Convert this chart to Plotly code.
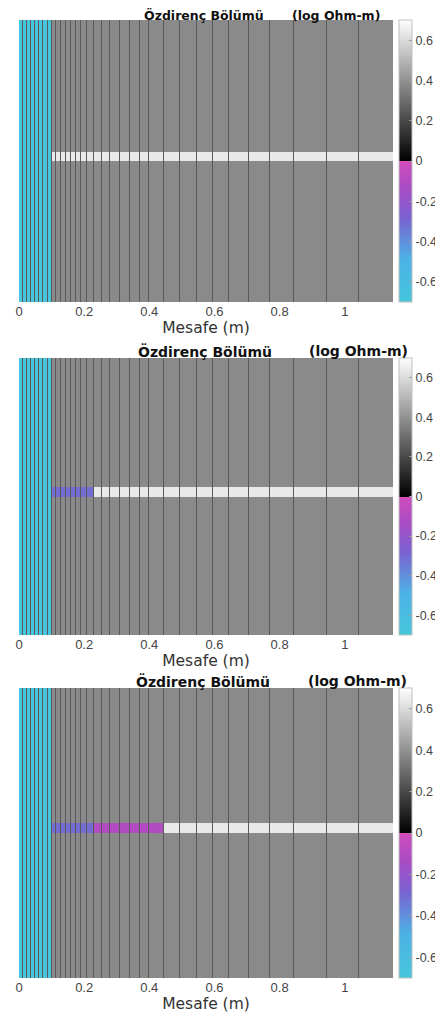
import plotly.graph_objects as go

# ---------------- data ----------------
# column edges along distance (m)
x_edges = [0.0, 0.0125, 0.025, 0.0375, 0.05, 0.0625, 0.075, 0.0875, 0.1,
           0.115, 0.13, 0.145, 0.16, 0.175, 0.19, 0.21, 0.23,
           0.255, 0.28, 0.31, 0.34, 0.37, 0.40, 0.445,
           0.495, 0.545, 0.595, 0.645, 0.705, 0.77, 0.845, 0.945, 1.045, 1.15]
n_rows = 30
band_row = 14                 # row index (from top) of the highlighted layer
left_edge_x = 0.1             # end of cyan block
value_left = -0.7             # cyan block (log Ohm-m)
value_background = 0.38       # grey background
value_band = 0.64             # white layer
# anomalous segments in the layer for each panel: (x start, x end, value)
segments_1 = []
segments_2 = [(0.1, 0.23, -0.31)]
segments_3 = [(0.1, 0.23, -0.31), (0.23, 0.445, -0.10)]
cbar_ticks = [-0.6, -0.4, -0.2, 0, 0.2, 0.4, 0.6]
x_ticks = [0, 0.2, 0.4, 0.6, 0.8, 1]
x_ticktext = ["0", "0.2", "0.4", "0.6", "0.8", "1"]
title_main = "Özdirenç Bölümü"
title_unit = "(log Ohm-m)"
x_title = "Mesafe (m)"

colorscale = [
    [0.0, "#46c6dc"],
    [0.15, "#4cb2e6"],
    [0.3, "#7a62d0"],
    [0.4, "#a64cc4"],
    [0.5, "#d24cbc"],
    [0.5, "#000000"],
    [1.0, "#ffffff"],
]


def build_z(segments):
    centers = [(x_edges[i] + x_edges[i + 1]) / 2 for i in range(len(x_edges) - 1)]
    z = []
    for r in range(n_rows):
        row = []
        for c in centers:
            if c < left_edge_x:
                v = value_left
            elif r == band_row:
                v = value_band
                for (a, b, val) in segments:
                    if a <= c < b:
                        v = val
            else:
                v = value_background
            row.append(v)
        z.append(row)
    return z


# page body has an 8px default margin: figure is placed at (8, 8)
OFF = 8
W, H = 443 - OFF, 1019 - OFF
ml, mr, mt, mb = 19 - OFF, 50, 20 - OFF, 1019 - 978
plot_h = H - mt - mb
plot_w = W - ml - mr


def py(y):  # y in window pixels -> paper
    return (H - mb - (y - OFF)) / plot_h


def px(x):  # x in window pixels -> paper
    return ((x - OFF) - ml) / plot_w


panels = [
    dict(seg=segments_1, top=20, bot=302, t_y=15.5, t1=204, t2=336, tf=12.5),
    dict(seg=segments_2, top=358, bot=635, t_y=351, t1=205, t2=358, tf=14),
    dict(seg=segments_3, top=688, bot=978, t_y=681, t1=203, t2=357, tf=14),
]

fig = go.Figure()
y_edges = list(range(n_rows + 1))
annotations = []
for i, p in enumerate(panels):
    k = "" if i == 0 else str(i + 1)
    d0, d1 = py(p["bot"]), py(p["top"])
    fig.add_trace(go.Heatmap(
        x=x_edges, y=y_edges, z=build_z(p["seg"]),
        zmin=-0.7, zmax=0.7, colorscale=colorscale,
        xgap=1, ygap=0,
        xaxis="x" + k, yaxis="y" + k,
        colorbar=dict(
            x=px(399), xanchor="left", xpad=0, ypad=0,
            y=(d0 + d1) / 2, yanchor="middle",
            len=d1 - d0, lenmode="fraction", thickness=13,
            outlinecolor="#c0c0c0", outlinewidth=1,
            tickvals=cbar_ticks, ticktext=[str(t) for t in cbar_ticks],
            ticks="inside", ticklen=3, tickcolor="#999",
            tickfont=dict(family="Liberation Sans, Arial", size=12.5, color="#444"),
        ),
    ))
    fig.layout["xaxis" + k] = dict(
        domain=[0, 1], anchor="y" + k, range=[0, 1.148],
        tickvals=x_ticks, ticktext=x_ticktext, ticks="",
        showgrid=False, zeroline=False, showline=False, automargin=False,
        tickfont=dict(family="Liberation Sans, Arial", size=13, color="#444"),
        title=dict(text=x_title, standoff=1,
                   font=dict(family="DejaVu Sans", size=15.5, color="#333")),
    )
    fig.layout["yaxis" + k] = dict(
        domain=[d0, d1], anchor="x" + k, range=[n_rows, 0],
        visible=False, showgrid=False, zeroline=False, automargin=False,
    )
    for txt, cx in ((title_main, p["t1"]), (title_unit, p["t2"])):
        annotations.append(dict(
            text="<b>" + txt + "</b>", x=px(cx), y=py(p["t_y"]),
            xref="paper", yref="paper", xanchor="center", yanchor="middle",
            showarrow=False,
            font=dict(family="DejaVu Sans", size=p["tf"], color="#111"),
        ))

fig.update_layout(
    width=W, height=H,
    margin=dict(l=ml, r=mr, t=mt, b=mb, autoexpand=False),
    paper_bgcolor="white", plot_bgcolor="#5a5a5a",
    annotations=annotations, showlegend=False,
)
fig.write_html("out.html")
